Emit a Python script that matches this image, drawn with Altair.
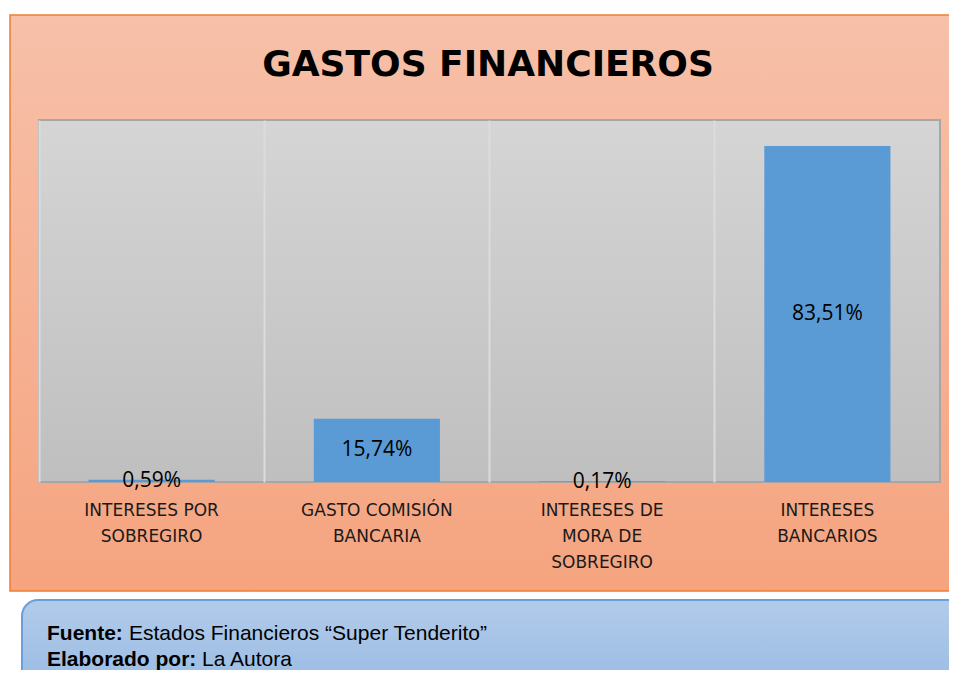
import altair as alt
import pandas as pd

# ---- data ----
cat_lines = [
    ["INTERESES POR", "SOBREGIRO"],
    ["GASTO COMISIÓN", "BANCARIA"],
    ["INTERESES DE", "MORA DE", "SOBREGIRO"],
    ["INTERESES", "BANCARIOS"],
]
categories = [" ".join(l) for l in cat_lines]
values = [0.59, 15.74, 0.17, 83.51]
value_labels = ["0,59%", "15,74%", "0,17%", "83,51%"]
title_text = "GASTOS FINANCIEROS"
source_bold = ["Fuente:", "Elaborado por:"]
source_text = ["Estados Financieros “Super Tenderito”", "La Autora"]

df = pd.DataFrame({"cat": categories, "value": values, "label": value_labels})
one = pd.DataFrame({"k": [0]})

W, H = 901, 362

# label expression for multi-line axis labels
expr = "datum.label"
for name, lines in reversed(list(zip(categories, cat_lines))):
    arr = "[" + ",".join("'" + s + "'" for s in lines) + "]"
    expr = f"datum.value == '{name}' ? {arr} : ({expr})"

def grad(c1, c2):
    return alt.Gradient(
        gradient="linear",
        stops=[alt.GradientStop(offset=0, color=c1), alt.GradientStop(offset=1, color=c2)],
        x1=0, x2=0, y1=0, y2=1,
    )

orange = alt.Chart(one).mark_rect(
    fill=grad("#F7C0A9", "#F5A47F"), stroke="#ED7D31", strokeWidth=1.5
).encode(x=alt.value(-29), x2=alt.value(940), y=alt.value(-105), y2=alt.value(471))

gray = alt.Chart(one).mark_rect(
    fill=grad("#D5D5D5", "#BFBFBF"), stroke="#A6A6A6", strokeWidth=2
).encode(x=alt.value(0), x2=alt.value(W), y=alt.value(0), y2=alt.value(H))

xenc = alt.X(
    "cat:N",
    sort=categories,
    scale=alt.Scale(paddingInner=0, paddingOuter=0),
    axis=alt.Axis(
        title=None, labelAngle=0, domain=False, ticks=False,
        grid=True, gridColor="#DCDCDC", gridWidth=2, bandPosition=0,
        labelExpr=expr, labelFont="DejaVu Sans", labelFontSize=17,
        labelColor="#1a1a1a", labelLineHeight=26, labelPadding=20,
        labelBaseline="top", zindex=1,
    ),
)
yscale = alt.Scale(domain=[0, 90], nice=False)

bars = alt.Chart(df).mark_bar(color="#5B9BD5", width=alt.RelativeBandSize(0.56)).encode(
    x=xenc,
    y=alt.Y("value:Q", scale=yscale, axis=None),
)

texts = alt.Chart(df).transform_calculate(mid="datum.value / 2").mark_text(
    font="Open Sans", fontSize=21, color="#000000", baseline="middle"
).encode(
    x=alt.X("cat:N", sort=categories),
    y=alt.Y("mid:Q", scale=yscale, axis=None),
    text="label:N",
)

title = alt.Chart(pd.DataFrame({"t": [title_text]})).mark_text(
    font="DejaVu Sans", fontSize=36, fontWeight="bold", color="#000000",
    align="center", baseline="alphabetic",
).encode(x=alt.value(449), y=alt.value(-44), text="t:N")

blue = alt.Chart(one).mark_rect(
    fill=grad("#B2CBE9", "#91B6E2"), stroke="#6A9FDB", strokeWidth=2, cornerRadius=16
).encode(x=alt.value(-17), x2=alt.value(960), y=alt.value(480), y2=alt.value(600))

src = pd.DataFrame({"b": source_bold, "t": source_text, "row": [0, 1]})
bold_txt = alt.Chart(src).transform_calculate(
    yy="520 + datum.row * 26"
).mark_text(
    font="Liberation Sans", fontSize=21, fontWeight="bold", color="#000000",
    align="left", baseline="alphabetic",
).encode(x=alt.value(8), y=alt.Y("yy:Q", scale=None), text="b:N")

reg_txt = alt.Chart(src).transform_calculate(
    yy="520 + datum.row * 26", xx="datum.row == 0 ? 90 : 163"
).mark_text(
    font="Liberation Sans", fontSize=21, color="#000000",
    align="left", baseline="alphabetic",
).encode(x=alt.X("xx:Q", scale=None), y=alt.Y("yy:Q", scale=None), text="t:N")

chart = alt.layer(orange, gray, bars, texts, title, blue, bold_txt, reg_txt).resolve_scale(
    x="shared", y="independent"
).properties(
    width=W, height=H,
    autosize=alt.AutoSizeParams(type="none"),
    padding={"left": 31, "top": 112, "right": 9, "bottom": 188},
    background="#FFFFFF",
).configure_view(stroke=None)

chart.save("out.html", embed_options={"renderer": "svg", "actions": False})
